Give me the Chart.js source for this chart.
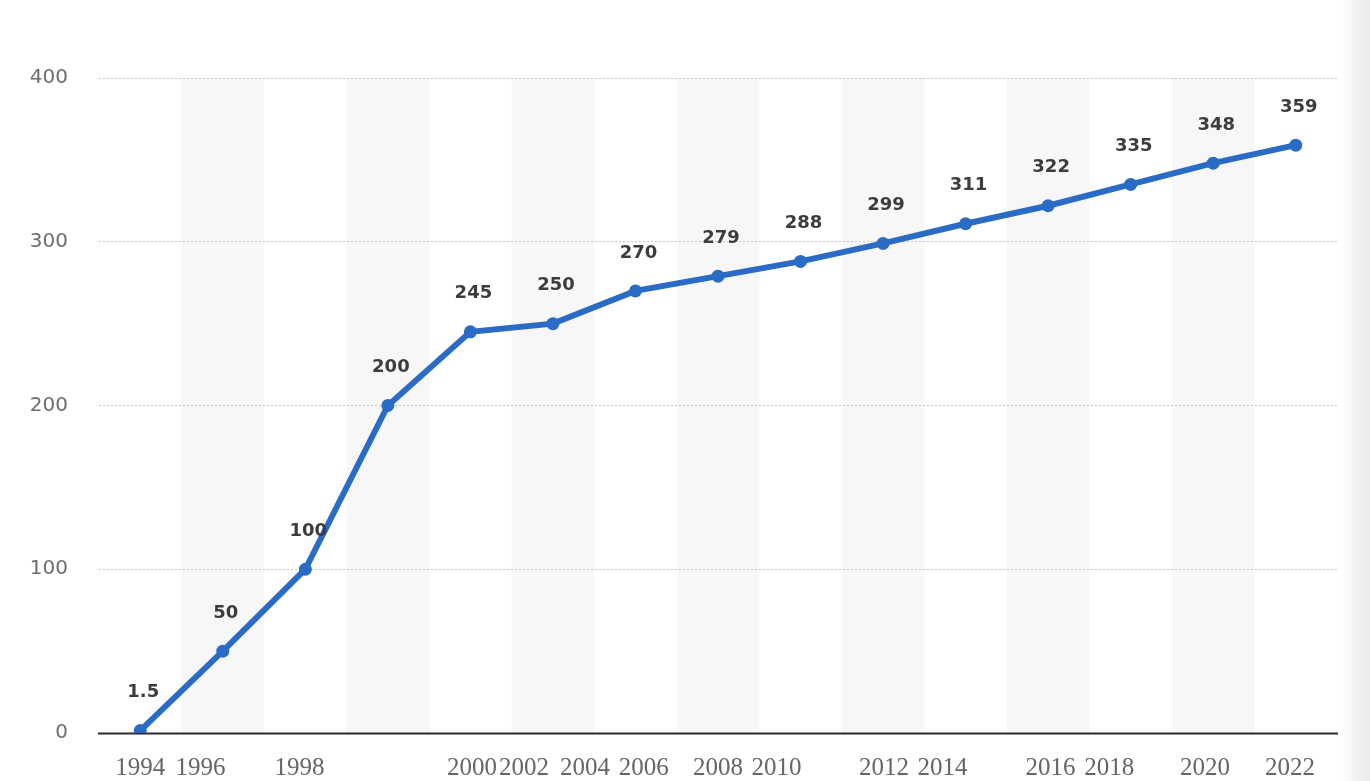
<!DOCTYPE html>
<html>
<head>
<meta charset="utf-8">
<title>Line chart 1994–2022</title>
<script src="https://cdn.jsdelivr.net/npm/chart.js@4/dist/chart.umd.min.js"></script>
<style>
  html, body { margin: 0; padding: 0; background: #ffffff; }
  #wrap {
    position: relative;
    width: 1370px;
    height: 781px;
    background: linear-gradient(to right, #ffffff 0px, #ffffff 1342px, #f1f1f1 1358px, #ebebeb 1370px);
  }
</style>
</head>
<body>
<div id="wrap"><canvas id="chart"></canvas></div>
<script>
// Years shown along the bottom and the value for each one
const years = ['1994', '1996', '1998', '2000', '2002', '2004', '2006', '2008',
               '2010', '2012', '2014', '2016', '2018', '2020', '2022'];
const values = [1.5, 50, 100, 200, 245, 250, 270, 279, 288, 299, 311, 322, 335, 348, 359];
const yTicks = [0, 100, 200, 300, 400];

// Where each year caption sits along the axis, in category-index units
const yearCaptionSlots = [0, 0.73, 1.93, 4.02, 4.65, 5.39, 6.10, 7.00,
                          7.71, 9.01, 9.72, 11.03, 11.74, 12.90, 13.93];

const LINE_BLUE = '#2a6bc6';

// Alternating light column bands behind the odd categories
const columnBands = {
  id: 'columnBands',
  beforeDraw(chart) {
    const { ctx, chartArea, scales } = chart;
    const xs = scales.x;
    const half = (xs.getPixelForValue(1) - xs.getPixelForValue(0)) / 2;
    ctx.save();
    ctx.fillStyle = '#f7f7f7';
    years.forEach((_, i) => {
      if (i % 2 === 1) {
        const cx = xs.getPixelForValue(i);
        ctx.fillRect(cx - half, chartArea.top, half * 2, chartArea.bottom - chartArea.top);
      }
    });
    ctx.restore();
  }
};

// Solid baseline at zero
const zeroLine = {
  id: 'zeroLine',
  beforeDatasetsDraw(chart) {
    const { ctx, chartArea, scales } = chart;
    const y = Math.round(scales.y.getPixelForValue(0)) + 0.5;
    ctx.save();
    ctx.strokeStyle = '#2b2b2b';
    ctx.lineWidth = 2;
    ctx.beginPath();
    ctx.moveTo(chartArea.left - 1, y);
    ctx.lineTo(chartArea.right + 1, y);
    ctx.stroke();
    ctx.restore();
  }
};

// Value captions above each point
const valueCaptions = {
  id: 'valueCaptions',
  afterDatasetsDraw(chart) {
    const { ctx } = chart;
    const meta = chart.getDatasetMeta(0);
    ctx.save();
    ctx.font = 'bold 18px "DejaVu Sans", Verdana, sans-serif';
    ctx.fillStyle = '#3c3c3c';
    ctx.textAlign = 'center';
    ctx.textBaseline = 'middle';
    meta.data.forEach((pt, i) => {
      ctx.fillText(String(values[i]), pt.x + 3, pt.y - 38);
    });
    ctx.restore();
  }
};

new Chart(document.getElementById('chart'), {
  type: 'line',
  data: {
    labels: years,
    datasets: [{
      data: values,
      borderColor: LINE_BLUE,
      backgroundColor: LINE_BLUE,
      borderWidth: 6,
      pointRadius: 6.5,
      pointBorderWidth: 0,
      pointBackgroundColor: LINE_BLUE,
      tension: 0,
      fill: false
    }]
  },
  options: {
    responsive: true,
    maintainAspectRatio: false,
    animation: false,
    events: [],
    layout: { padding: { left: 0, right: 33, top: 78, bottom: 0 } },
    plugins: {
      legend: { display: false },
      tooltip: { enabled: false },
      title: { display: false }
    },
    scales: {
      x: {
        type: 'category',
        display: false,
        offset: true
      },
      xl: {
        type: 'linear',
        position: 'bottom',
        min: -0.5,
        max: 14.5,
        grid: { display: false, drawTicks: false },
        border: { display: false },
        afterBuildTicks(axis) {
          axis.ticks = yearCaptionSlots.map(v => ({ value: v }));
        },
        afterFit(axis) { axis.height = 48; },
        ticks: {
          autoSkip: false,
          maxRotation: 0,
          minRotation: 0,
          padding: 20,
          color: '#666666',
          font: { family: '"Liberation Serif", "Times New Roman", serif', size: 25 },
          callback: (v, i) => years[i]
        }
      },
      y: {
        min: 0,
        max: 400,
        afterBuildTicks(axis) {
          axis.ticks = yTicks.map(v => ({ value: v }));
        },
        afterFit(axis) { axis.width = 99; },
        grid: {
          color: '#c4c4c4',
          lineWidth: 1,
          drawTicks: false
        },
        border: { display: false, dash: [2, 2] },
        ticks: {
          padding: 31,
          color: '#6e6e6e',
          font: { family: '"DejaVu Sans", Verdana, sans-serif', size: 20 }
        }
      }
    }
  },
  plugins: [columnBands, zeroLine, valueCaptions]
});
</script>
</body>
</html>
